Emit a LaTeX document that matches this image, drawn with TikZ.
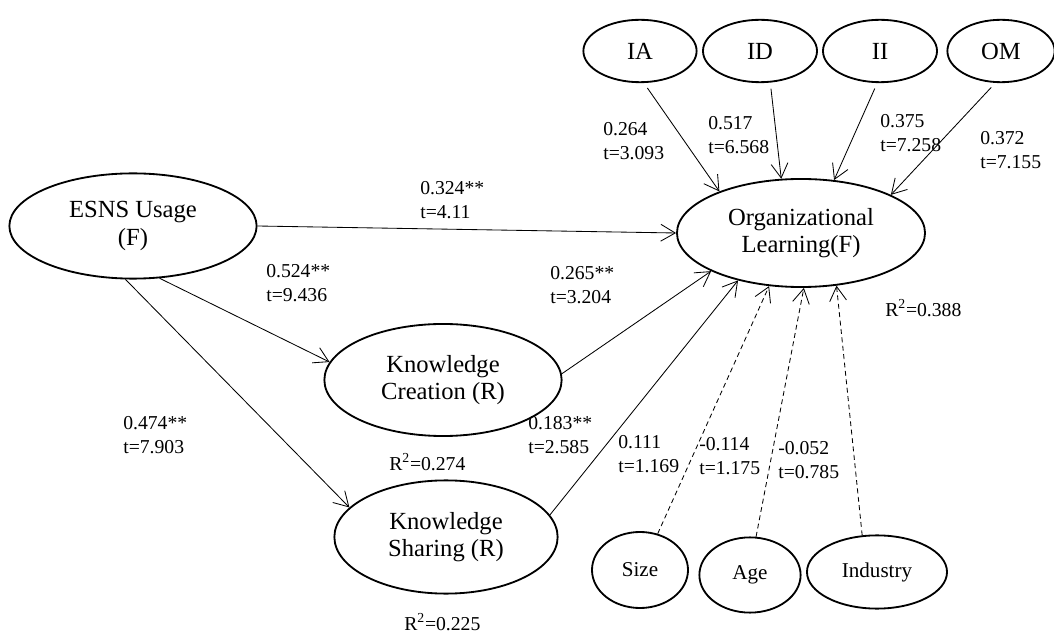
\documentclass[tikz,border=0pt]{standalone}
\usepackage{fontspec}
\setmainfont{Liberation Serif}
\usetikzlibrary{shapes.geometric,arrows.meta}

\begin{document}
\begin{tikzpicture}[x=0.025cm,y=-0.025cm,
latent/.style={shape=ellipse,draw,line width=1.3pt,inner sep=0pt,align=center,font=\fontsize{17.5}{19.5}\selectfont},
ctrl/.style={latent,font=\fontsize{15}{17}\selectfont},
coef/.style={anchor=west,align=left,inner sep=0pt,font=\fontsize{14}{16.8}\selectfont},
link/.style={-{Straight Barb[length=3.6mm,width=4.2mm]},line width=0.6pt},
ctl/.style={link,dash pattern=on 3.5pt off 2.5pt}]
%[inner sep=1mm]
\useasboundingbox (0,0) rectangle (1054,636);

\path (133,226) node (ESNS) [latent, minimum width=6.18cm, minimum height=2.63cm] {ESNS Usage\\(F)};
\path (801,233) node (OL) [latent, minimum width=6.2cm, minimum height=2.7cm] {Organizational\\Learning(F)};
\path (443,380) node (KC) [latent, minimum width=5.93cm, minimum height=2.8cm] {Knowledge\\Creation (R)};
\path (446,537) node (KS) [latent, minimum width=5.58cm, minimum height=2.83cm] {Knowledge\\Sharing (R)};

\path (640,51) node (IA) [latent, minimum width=2.83cm, minimum height=1.56cm] {IA};
\path (760,51) node (ID) [latent, minimum width=2.85cm, minimum height=1.56cm] {ID};
\path (880,51) node (II) [latent, minimum width=2.85cm, minimum height=1.56cm] {II};
\path (1001,51) node (OM) [latent, minimum width=2.68cm, minimum height=1.56cm] {OM};

\path (640,570) node (Size) [ctrl, minimum width=2.4cm, minimum height=1.9cm] {Size};
\path (750,575) node (Age) [ctrl, minimum width=2.53cm, minimum height=1.88cm] {Age};
\path (877,572) node (Ind) [ctrl, minimum width=3.5cm, minimum height=1.83cm] {Industry};

\draw[link] (ESNS.east) -- (OL.west);
\draw[link] (ESNS.-63) -- (KC.171);
\draw[link] (ESNS.-98) -- (KS.163);
\draw[link] (KC.3) -- (OL.203);
\draw[link] (KS.12) -- (OL.217);

\draw[link, shorten <=1.5mm] (IA.-83) -- (OL.153);
\draw[link, shorten <=1.5mm] (ID.-72) -- (OL.110);
\draw[link, shorten <=1.5mm] (II.-95) -- (OL.58);
\draw[link, shorten <=1.5mm] (OM.-100) -- (OL.23);

\draw[ctl] (Size.64) -- (OL.239);
\draw[ctl] (Age.81) -- (OL.273);
\draw[ctl] (Ind.112) -- (OL.304);

\path (420,200) node (c1) [coef] {0.324**\\t=4.11};
\path (266,283) node (c2) [coef] {0.524**\\t=9.436};
\path (550,285) node (c3) [coef] {0.265**\\t=3.204};
\path (123,435) node (c4) [coef] {0.474**\\t=7.903};
\path (528,435) node (c5) [coef] {0.183**\\t=2.585};

\path (603,141) node (c6) [coef] {0.264\\t=3.093};
\path (708,135) node (c7) [coef] {0.517\\t=6.568};
\path (880,133) node (c8) [coef] {0.375\\t=7.258};
\path (980,150) node (c9) [coef] {0.372\\t=7.155};

\path (618,454) node (c10) [coef] {0.111\\t=1.169};
\path (699,456) node (c11) [coef] {-0.114\\t=1.175};
\path (778,460) node (c12) [coef] {-0.052\\t=0.785};

\path (389,462) node (r1) [coef] {R\textsuperscript{2}=0.274};
\path (404,622) node (r2) [coef] {R\textsuperscript{2}=0.225};
\path (885,308) node (r3) [coef] {R\textsuperscript{2}=0.388};

\end{tikzpicture}
\end{document}
